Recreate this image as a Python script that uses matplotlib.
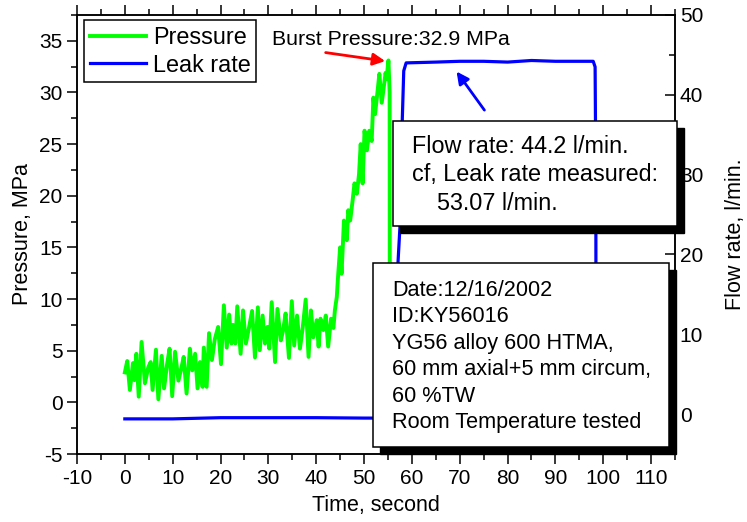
import matplotlib
matplotlib.use("Agg")
import matplotlib.pyplot as plt
from matplotlib.ticker import MultipleLocator
from matplotlib.patches import Rectangle

plt.rcParams['font.family'] = ['Liberation Sans', 'DejaVu Sans']
plt.rcParams['axes.unicode_minus'] = False

# Pressure trace (time in s, pressure in MPa)
time_p = [0, 0.5, 1.05, 1.7, 2.0, 2.4, 2.9, 3.5, 4.2, 4.9,
          5.4, 5.8, 6.5, 7.0, 7.7, 8.2, 8.8, 9.35, 9.9, 10.5,
          11.2, 11.9, 12.3, 12.9, 13.6, 14.1, 14.7, 15.2, 15.7, 16.25,
          16.5, 17.1, 17.6, 18.2, 18.8, 19.5, 20.1, 20.7, 21.3, 21.8,
          22.3, 22.6, 23.1, 23.5, 24.2, 24.7, 25.3, 25.9, 26.6, 27.2,
          27.8, 28.2, 28.8, 29.3, 29.8, 30.2, 30.7, 31.4, 31.9, 32.6,
          33.1, 33.6, 34.3, 34.9, 35.4, 36.0, 36.6, 37.2, 37.8, 38.4,
          38.9, 39.4, 40.1, 40.5, 40.9, 41.5, 42.0, 42.5, 43.1, 43.6,
          43.9, 44.3, 44.6, 45.0, 45.3, 45.8, 46.4, 46.7, 47.1, 47.6,
          48.0, 48.5, 48.95, 49.3, 49.7, 50.1, 50.6, 51.1, 51.6, 51.95,
          52.3, 52.8, 53.2, 53.7, 54.2, 54.5, 54.7, 55.1, 55.35, 55.4]
pressure = [2.9, 4.0, 1.2, 3.8, 2.15, 4.7, 0.55, 5.85, 1.85, 3.4,
            3.9, 1.2, 5.1, 0.3, 4.5, 1.35, 3.6, 5.2, 0.6, 4.9,
            2.1, 3.5, 4.4, 0.86, 5.2, 3.1, 4.7, 1.35, 3.9, 1.5,
            5.3, 1.5, 6.7, 4.1, 6.1, 7.3, 3.7, 9.4, 5.3, 8.5,
            5.7, 7.5, 5.7, 9.3, 4.7, 8.9, 5.7, 7.1, 8.85, 4.35,
            9.2, 5.05, 8.4, 5.7, 7.3, 5.2, 9.7, 3.9, 9.05, 6.0,
            7.0, 8.6, 4.3, 9.8, 5.5, 8.4, 5.2, 7.3, 9.95, 4.4,
            8.9, 6.3, 7.95, 5.4, 8.1, 7.0, 8.4, 5.4, 8.1, 7.2,
            8.9, 10.2, 12.4, 15.0, 12.45, 17.6, 15.7, 18.6, 17.6, 19.5,
            21.2, 20.2, 22.1, 25.0, 21.2, 26.3, 24.4, 26.3, 25.3, 29.5,
            27.9, 30.0, 31.8, 29.0, 30.8, 31.9, 31.3, 33.1, 30.0, 0.0]

# Leak (flow) rate trace, l/min
time_l = [0, 10, 20, 30, 40, 50, 56.6, 56.9, 57.1, 57.5, 58.0, 58.3, 58.8,
          65, 70, 75, 80, 85, 90, 95, 97.9, 98.3, 98.45, 98.5]
leak = [-0.6, -0.6, -0.45, -0.45, -0.45, -0.5, -0.5, 10, 19, 23.4, 37, 43, 44.0,
        44.1, 44.2, 44.2, 44.1, 44.3, 44.2, 44.2, 44.2, 43.5, 30, 0]

box1_lines = ["Flow rate: 44.2 l/min.", "cf, Leak rate measured:", "53.07 l/min."]
box2_lines = ["Date:12/16/2002", "ID:KY56016", "YG56 alloy 600 HTMA,",
              "60 mm axial+5 mm circum,", "60 %TW", "Room Temperature tested"]

W, H = 747, 522
fig = plt.figure(figsize=(W / 100, H / 100), dpi=100)
ax1 = fig.add_axes([77 / W, 1 - 454 / H, (675 - 77) / W, (454 - 15) / H])
ax2 = ax1.twinx()

l1, = ax1.plot(time_p, pressure, color='#00ff00', lw=2.8, label='Pressure')
l2, = ax2.plot(time_l, leak, color='#0000ff', lw=2.3, label='Leak rate')

ax1.set_xlim(-10, 115)
ax1.set_ylim(-5, 37.5)
ax2.set_ylim(-5, 50)

ax1.xaxis.set_major_locator(MultipleLocator(10))
ax1.xaxis.set_minor_locator(MultipleLocator(5))
ax1.yaxis.set_major_locator(MultipleLocator(5))
ax1.yaxis.set_minor_locator(MultipleLocator(2.5))
ax2.yaxis.set_major_locator(MultipleLocator(10))
ax2.yaxis.set_minor_locator(MultipleLocator(5))
ax1.set_xticks(range(-10, 111, 10))

ax1.tick_params(axis='x', which='both', direction='out', top=True, labelsize=15, width=1.1)
ax1.tick_params(axis='y', which='both', direction='out', right=False, labelsize=15, width=1.1)
ax1.tick_params(which='major', length=7)
ax1.tick_params(which='minor', length=4)
ax2.tick_params(axis='y', which='both', direction='in', labelsize=15, width=1.1)
ax2.tick_params(which='major', length=7)
ax2.tick_params(which='minor', length=4)
for ax in (ax1, ax2):
    for s in ax.spines.values():
        s.set_linewidth(1.1)

ax1.set_xlabel('Time, second', fontsize=15.5, labelpad=5)
ax1.set_ylabel('Pressure, MPa', fontsize=15.5, labelpad=4)
ax2.set_ylabel('Flow rate, l/min.', fontsize=15.5, labelpad=16)

# annotations
ax1.text(30.8, 35.1, 'Burst Pressure:32.9 MPa', fontsize=15.3, ha='left', va='center')
ax1.annotate('', xy=(55.0, 33.0), xytext=(41.4, 33.9),
             arrowprops=dict(arrowstyle='-|>', color='red', lw=2, mutation_scale=18))
ax2.annotate('', xy=(69.0, 43.2), xytext=(75.5, 37.8),
             arrowprops=dict(arrowstyle='-|>', color='blue', lw=2, mutation_scale=18))

leg = ax2.legend(handles=[l1, l2], loc='upper left', bbox_to_anchor=(84 / W, 1 - 20 / H),
                 bbox_transform=fig.transFigure, borderaxespad=0, fancybox=False,
                 edgecolor='black', framealpha=1, fontsize=16.8, handlelength=2.4,
                 handletextpad=0.3, labelspacing=0.2, borderpad=0.25)
leg.get_frame().set_linewidth(1.1)


# boxes with shadow, in pixel coords from the top left
def shadow_box(x0, y0, x1, y1, off=7):
    fig.add_artist(Rectangle(((x0 + off) / W, 1 - (y1 + off) / H), (x1 - x0) / W, (y1 - y0) / H,
                             transform=fig.transFigure, facecolor='black', edgecolor='black', zorder=5))
    fig.add_artist(Rectangle((x0 / W, 1 - y1 / H), (x1 - x0) / W, (y1 - y0) / H,
                             transform=fig.transFigure, facecolor='white', edgecolor='black',
                             lw=1.1, zorder=6))


shadow_box(393, 121, 677, 226)
shadow_box(373, 263, 669, 447)

for txt, x, yb in zip(box1_lines, [412, 412, 437], [153, 181, 210]):
    fig.text(x / W, 1 - yb / H, txt, fontsize=16.8, ha='left', va='baseline', zorder=7)
for i, txt in enumerate(box2_lines):
    fig.text(392 / W, 1 - (296 + 26.4 * i) / H, txt, fontsize=15.6, ha='left', va='baseline', zorder=7)

fig.savefig('out.png', dpi=100)
